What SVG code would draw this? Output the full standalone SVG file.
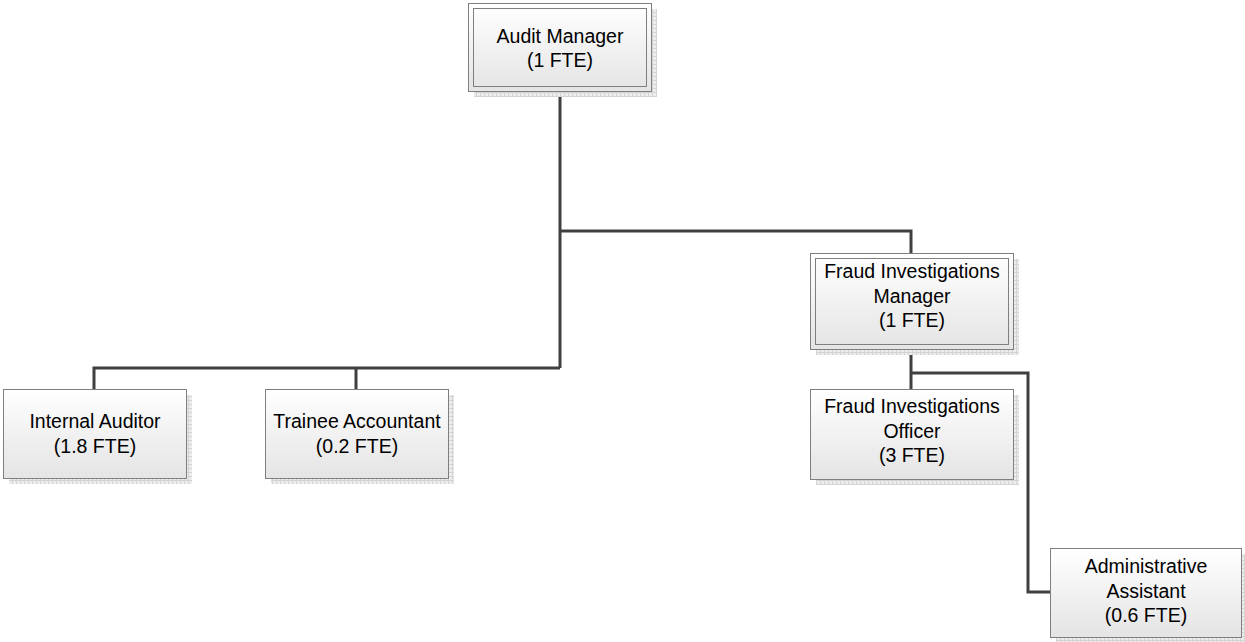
<svg xmlns="http://www.w3.org/2000/svg" width="1245" height="642" viewBox="0 0 1245 642">
<style>
.box{fill:url(#g);stroke:#7f7f7f;stroke-width:1}
.inner{fill:none;stroke:#7f7f7f;stroke-width:1}
.sh{fill:url(#hatch)}
.t{font-family:"Liberation Sans",Arial,sans-serif;font-size:19.5px;fill:#000;text-anchor:middle}
.c{fill:none;stroke:#404040;stroke-width:3}
</style>
<defs>
<linearGradient id="g" x1="0" y1="0" x2="0" y2="1">
<stop offset="0" stop-color="#ffffff"/>
<stop offset="1" stop-color="#e4e4e4"/>
</linearGradient>
<pattern id="hatch" width="4" height="4" patternUnits="userSpaceOnUse">
<rect width="4" height="4" fill="#ececec"/>
<path d="M0 0.5H4M0.5 0V4" stroke="#d4d4d4" stroke-width="1"/>
</pattern>
</defs>
<rect width="1245" height="642" fill="#ffffff"/>
<g id="connectors">
<path class="c" d="M560 91V368M94 390V368H560M356 368V390M560 231H911V253"/>
<path class="c" d="M911 349V389M911 373H1028V592H1050"/>
</g>
<g id="audit-manager">
<rect class="sh" x="474" y="9" width="183" height="88"/>
<rect class="box" x="468.5" y="3.5" width="183" height="88"/>
<rect class="inner" x="473.5" y="8.5" width="173" height="78"/>
<text class="t" x="560" y="43">Audit Manager</text>
<text class="t" x="560" y="67">(1 FTE)</text>
</g>
<g id="fraud-investigations-manager">
<rect class="sh" x="816" y="259" width="203" height="96"/>
<rect class="box" x="810.5" y="253.5" width="203" height="96"/>
<rect class="inner" x="815.5" y="258.5" width="193" height="86"/>
<text class="t" x="912" y="278">Fraud Investigations</text>
<text class="t" x="912" y="303">Manager</text>
<text class="t" x="912" y="327">(1 FTE)</text>
</g>
<g id="internal-auditor">
<rect class="sh" x="9" y="395" width="183" height="89"/>
<rect class="box" x="3.5" y="389.5" width="183" height="89"/>
<text class="t" x="95" y="428">Internal Auditor</text>
<text class="t" x="95" y="453">(1.8 FTE)</text>
</g>
<g id="trainee-accountant">
<rect class="sh" x="271" y="395" width="183" height="89"/>
<rect class="box" x="265.5" y="389.5" width="183" height="89"/>
<text class="t" x="357" y="428">Trainee Accountant</text>
<text class="t" x="357" y="453">(0.2 FTE)</text>
</g>
<g id="fraud-investigations-officer">
<rect class="sh" x="816" y="395" width="203" height="90"/>
<rect class="box" x="810.5" y="389.5" width="203" height="90"/>
<text class="t" x="912" y="413">Fraud Investigations</text>
<text class="t" x="912" y="438">Officer</text>
<text class="t" x="912" y="462">(3 FTE)</text>
</g>
<g id="administrative-assistant">
<rect class="sh" x="1056" y="554" width="192" height="90"/>
<rect class="box" x="1050.5" y="548.5" width="191" height="89"/>
<text class="t" x="1146" y="573">Administrative</text>
<text class="t" x="1146" y="598">Assistant</text>
<text class="t" x="1146" y="622">(0.6 FTE)</text>
</g>
</svg>
